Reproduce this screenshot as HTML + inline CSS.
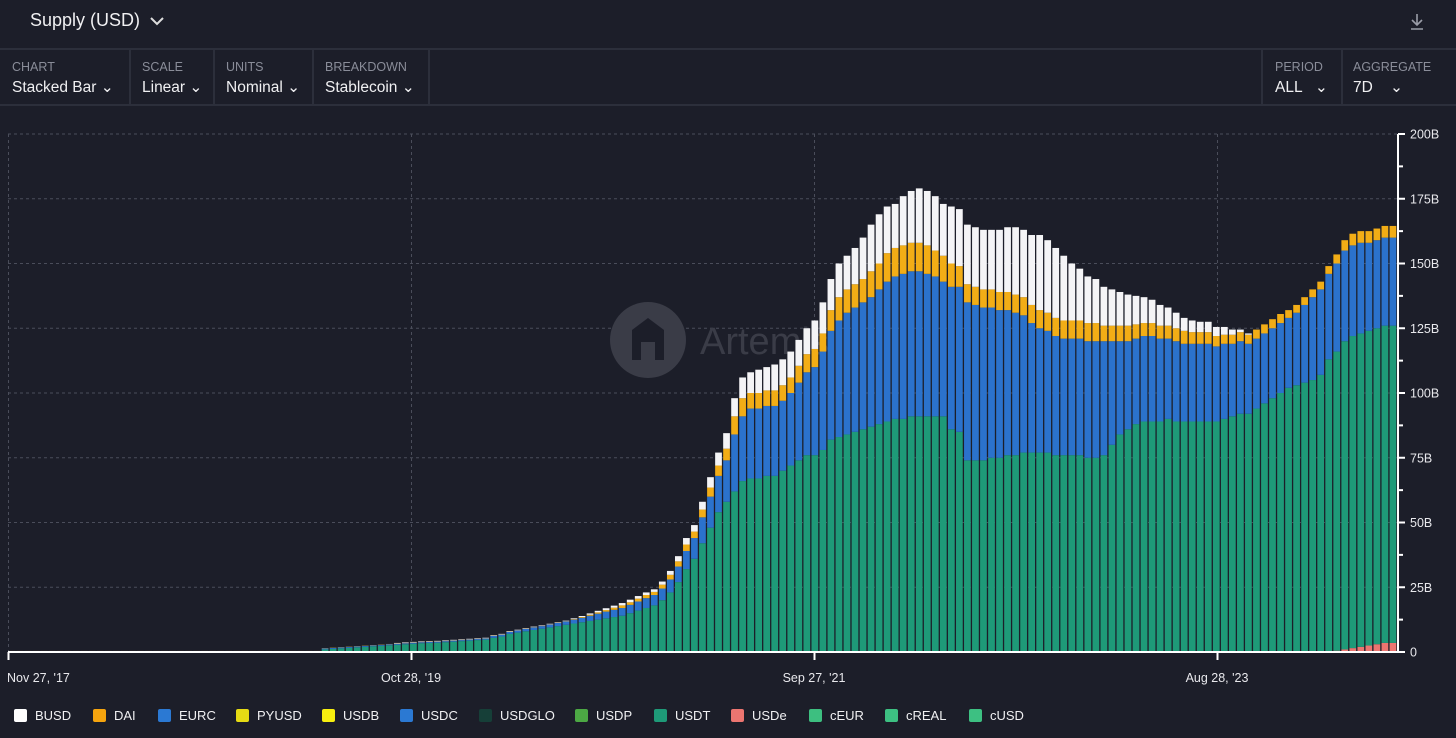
<!DOCTYPE html>
<html><head><meta charset="utf-8">
<style>
body{margin:0;width:1456px;height:738px;background:#1c1e29;font-family:"Liberation Sans",sans-serif;color:#e8e8ec;overflow:hidden;position:relative}
.hdr{position:absolute;left:0;top:0;width:1456px;height:48px;border-bottom:2px solid #2c2f3b}
.title{position:absolute;left:30px;top:10px;font-size:18px;color:#f0f0f2}
.ctrl{position:absolute;top:50px;height:54px;border-right:2px solid #2c2f3b}
.ctrl .l{position:absolute;left:12px;top:10px;font-size:12.5px;color:#8a8d99}
.ctrl .v{position:absolute;left:12px;top:28px;font-size:15.5px;color:#f0f0f2;white-space:nowrap}
.bar2{position:absolute;left:0;top:104px;width:1456px;height:2px;background:#2c2f3b}
.legend{position:absolute;top:708px;left:14px;font-size:13px;color:#f0f0f2}
.li{position:absolute;top:0;white-space:nowrap}
.li i{position:absolute;left:0;top:1px;width:13px;height:13px;border-radius:2px}
.li span{position:absolute;left:21px;top:0}
</style></head><body>
<div class="hdr">
<div class="title">Supply (USD) <svg width="16" height="10" viewBox="0 0 16 10" style="margin-left:4px"><path d="M2 2 L8 8 L14 2" stroke="#ddd" stroke-width="2" fill="none"/></svg></div>
<svg style="position:absolute;left:1408px;top:12px" width="18" height="20" viewBox="0 0 18 20"><path d="M9 2 V13 M4 8 L9 13 L14 8 M3 17 H15" stroke="#9a9da8" stroke-width="1.6" fill="none"/></svg>
</div>
<div class="ctrl" style="left:0;width:129px"><div class="l">CHART</div><div class="v">Stacked Bar ⌄</div></div>
<div class="ctrl" style="left:130px;width:83px"><div class="l">SCALE</div><div class="v">Linear ⌄</div></div>
<div class="ctrl" style="left:214px;width:98px"><div class="l">UNITS</div><div class="v">Nominal ⌄</div></div>
<div class="ctrl" style="left:313px;width:115px"><div class="l">BREAKDOWN</div><div class="v">Stablecoin ⌄</div></div>
<div class="ctrl" style="left:1261px;width:78px;border-left:2px solid #2c2f3b"><div class="l">PERIOD</div><div class="v">ALL &nbsp;&nbsp;⌄</div></div>
<div class="ctrl" style="left:1341px;width:115px;border-right:none"><div class="l">AGGREGATE</div><div class="v">7D &nbsp;&nbsp;&nbsp;⌄</div></div>
<div class="bar2"></div>

<svg id="chart" style="position:absolute;left:0;top:0" width="1456" height="700"></svg>

<div class="legend">
<div class="li" style="left:0"><i style="background:#ffffff"></i><span>BUSD</span></div>
<div class="li" style="left:79px"><i style="background:#f5a40e"></i><span>DAI</span></div>
<div class="li" style="left:144px"><i style="background:#2b79d3"></i><span>EURC</span></div>
<div class="li" style="left:222px"><i style="background:#e6db14"></i><span>PYUSD</span></div>
<div class="li" style="left:308px"><i style="background:#f7ef0f"></i><span>USDB</span></div>
<div class="li" style="left:386px"><i style="background:#2b79d3"></i><span>USDC</span></div>
<div class="li" style="left:465px"><i style="background:#163f38"></i><span>USDGLO</span></div>
<div class="li" style="left:561px"><i style="background:#4ca844"></i><span>USDP</span></div>
<div class="li" style="left:640px"><i style="background:#1e9a78"></i><span>USDT</span></div>
<div class="li" style="left:717px"><i style="background:#ec7570"></i><span>USDe</span></div>
<div class="li" style="left:795px"><i style="background:#3dbf80"></i><span>cEUR</span></div>
<div class="li" style="left:871px"><i style="background:#3dc082"></i><span>cREAL</span></div>
<div class="li" style="left:955px"><i style="background:#3dc082"></i><span>cUSD</span></div>
</div>

<script>
// bi-weekly values, billions USD, starting Nov 27 '17
const usde = [].concat(Array(165).fill(0),[0.5,1,1.5,2,2.5,3,3.5,3.5]);
const usdt = [].concat(Array(39).fill(0.2),
[1.0,1.2,1.4,1.6,1.8,2.0,2.2,2.4,2.6,2.8,3.0],
[3.2,3.4,3.5,3.6,3.8,4.0,4.2,4.4,4.6,4.8],
[5.5,6,7,7.5,8,8.5,9,9.5,10,10.5],
[11,11.5,12,12.5,13],[13.5,14,15,16,17],[18,20,23,27,32],[36,42,48,54,58],
[62,66,67,67,68],[68,70,72,74,76],[76,78,82,83,84],[85,86,87,88,89],
[90,90,91,91,91],[91,91,86,85,74],[74,74,75,75,76],[76,77,77,77,77],
[76,76,76,76,75],[75,76,80,84,86],[88,89,89,89,90],[89,89,89,89,89],
[89,90,91,92,92],[94,96,98,100,102],[103,104,105,107,113],
[115.5,119,120.5,121,121.5],[122,122.5,122.5]);
const usdc = [].concat(Array(39).fill(0.1),Array(21).fill(0.4),
[0.7,0.7,0.8,0.8,0.9,1,1,1.1,1.2,1.3,1.5,1.7,2,2.3,2.6],
[2.8,3,3.2,3.5,3.8],[4,4.5,5,6,7],[8,10,12,14,16],[22,25,27,27,27],
[27,27,28,30,32],[34,38,42,45,47],[48,49,50,52,54],[55,56,56,56,55],
[54,52,55,56,61],[60,59,58,57,56],[55,53,50,48,47],[46,45,45,45,45],
[45,44,40,36,34],[33,33,33,32,31],[31,30,30,30,30],[29,29,28,28,27],
[27,27,27,27,27],[28,30,32,33,33],[34,35,35,35,34],[34,34,34]);
const dai = [].concat(Array(70).fill(0.1),
[0.2,0.3,0.4,0.5,0.6,0.8,1,1,1.1,1.2],[1.2,1.5,1.8,2,2.5],[2.5,3,3.5,4,4.5],
[7,7,6,6,6,6,6,6,6.5,7],[7,7,8,9,9],[9,9,10,10,11],[11,11,11,11,11],
[10,10,9,8,7],Array(10).fill(7),[7,7,7,7,7,7,6,6,6,6],
[5.5,5,5,5,5,5,5,4.5,4.5,4.5],[4,3.5,3.5,3.5,3.5],[3.5,3.5,3.5,3.5,3],
[3,3,3,3,3],[3.5,4,4.5,4.5,4.5,4.5,4.5,4.5]);
const busd = [].concat(Array(48).fill(0),Array(22).fill(0.2),
[0.3,0.4,0.5,0.6,0.7,0.8,0.9,1,1,1],[1,1.2,1.5,2,2.5],[2.5,3,4,5,6],
[7,8,8,9,9],[10,10,10,10,10],[11,12,12,13,13],[14,16,18,19,18],
[17,19,20,21,21],[21,20,22,22,23],[23,23,23,24,25],[26,26,27,29,28],
[27,25,22,20,18],[17,15,14,13,12],[11,10,9,8,7],[6,5,4.5,4,4],
[3.5,3,2,1,0.5],Array(18).fill(0));
const yTicks = [0,25,50,75,100,125,150,175,200];
const yLabels = ["0","25B","50B","75B","100B","125B","150B","175B","200B"];
const xTickIdx = [0,50,100,150];
const xLabels = ["Nov 27, '17","Oct 28, '19","Sep 27, '21","Aug 28, '23"];

const series = [
 {name:'usde',vals:usde,color:'#ec7570'},
 {name:'usdt',vals:usdt,color:'#1e9a78'},
 {name:'usdc',vals:usdc,color:'#2b72cc'},
 {name:'dai',vals:dai,color:'#f2ad16'},
 {name:'busd',vals:busd,color:'#f4f4f6'}
];
const NS='http://www.w3.org/2000/svg';
const svg=document.getElementById('chart');
const X0=8, STEP=8.06, Y0=652, YTOP=134, YMAX=200, AXR=1398;
const xs=i=>X0+i*STEP;
const ys=v=>Y0-(v/YMAX)*(Y0-YTOP);
function mk(tag,attrs,parent){const e=document.createElementNS(NS,tag);for(const k in attrs)e.setAttribute(k,attrs[k]);(parent||svg).appendChild(e);return e;}
// grid
yTicks.forEach((t,k)=>{
 if(t>0){const g=mk('line',{x1:X0,x2:AXR,y1:ys(t),y2:ys(t),stroke:'#4a4d5a','stroke-dasharray':'3,3','stroke-width':1});
 
 }
 const tk=mk('line',{x1:AXR,x2:AXR+7,y1:ys(t),y2:ys(t),stroke:'#fff','stroke-width':2});
 
 
 const lb=mk('text',{x:AXR+12,y:ys(t)+4.5,fill:'#e8e8ec','font-size':12.5,'font-family':'Liberation Sans, sans-serif'});
 lb.textContent=yLabels[k];
 
 
 if(k<yTicks.length-1){const mt=mk('line',{x1:AXR,x2:AXR+5,y1:ys(t+12.5),y2:ys(t+12.5),stroke:'#fff','stroke-width':2});
 
 }
});
xTickIdx.forEach((i,k)=>{
 const g=mk('line',{x1:xs(i)+0.5,x2:xs(i)+0.5,y1:YTOP,y2:Y0,stroke:'#4a4d5a','stroke-dasharray':'3,3','stroke-width':1});
 
 
});
// watermark
const wm=mk('g',{});


mk('circle',{cx:648,cy:340,r:38,fill:'#3a3c47'},wm);
mk('path',{d:'M632 360 V330 L648 318 L664 330 V360 H655 V342 H641 V360 Z',fill:'#1c1e29'},wm);
const wt=mk('text',{x:700,y:354,fill:'#3a3c47','font-size':38,'font-family':'Liberation Sans, sans-serif'},wm);
wt.textContent='Artemis';
// bars
const n=usdt.length;
const BW=Math.min(STEP-1.3,(AXR-1-X0)/n-1.3);
const STP=(AXR-1-X0)/n;
for(let i=0;i<n;i++){
 let base=0;
 series.forEach(s=>{
  const v=s.vals[i]||0;
  if(v>0){
   const r=mk('rect',{x:X0+i*STP+0.6,y:ys(base+v),width:BW,height:ys(base)-ys(base+v),fill:s.color});
   
   
  }
  base+=v;
 });
}
// axes
const ax=mk('line',{x1:X0,x2:AXR,y1:Y0,y2:Y0,stroke:'#fff','stroke-width':2});


const ay=mk('line',{x1:AXR,x2:AXR,y1:YTOP,y2:Y0,stroke:'#fff','stroke-width':2});


xTickIdx.forEach((i,k)=>{
 const t=mk('line',{x1:xs(i)+0.5,x2:xs(i)+0.5,y1:Y0,y2:Y0+8,stroke:'#fff','stroke-width':2});
 
 
 const lb=mk('text',{x:k===0?X0-1:xs(i),y:682,fill:'#e8e8ec','font-size':12.5,'text-anchor':k===0?'start':'middle','font-family':'Liberation Sans, sans-serif'});
 lb.textContent=xLabels[k];
 
 
});
</script>
</body></html>
